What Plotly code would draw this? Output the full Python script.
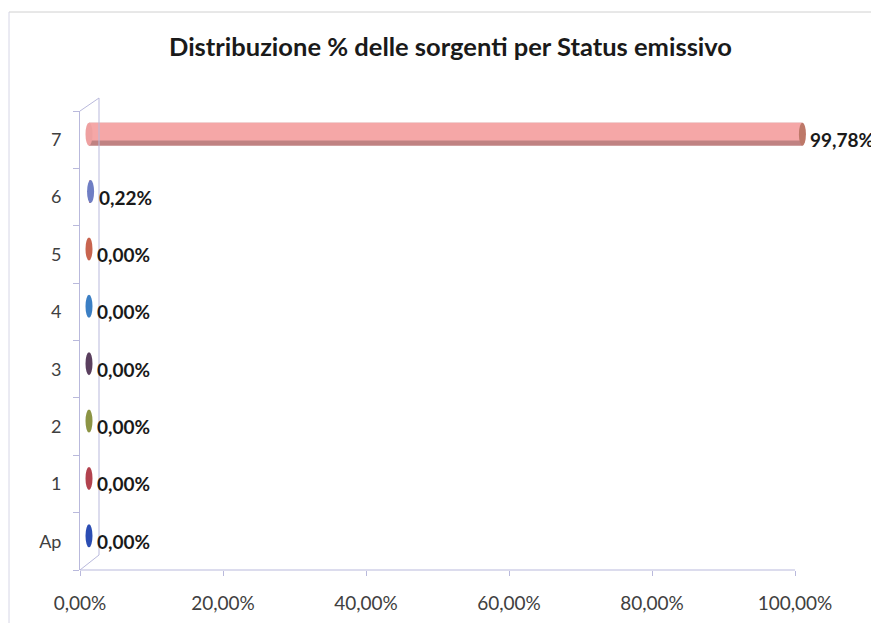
import plotly.graph_objects as go

categories = ["Ap", "1", "2", "3", "4", "5", "6", "7"]
values = [0.0, 0.0, 0.0, 0.0, 0.0, 0.0, 0.22, 99.78]
labels = ["0,00%", "0,00%", "0,00%", "0,00%", "0,00%", "0,00%", "0,22%", "99,78%"]
cap_colors = ["#2b4db3", "#b2424e", "#8c9444", "#5a3f5e", "#3b7fc4", "#c8644f", "#6f7ec4", "#bd7868"]
x_ticks = [0, 20, 40, 60, 80, 100]
x_ticktext = [f"{v:.2f}%".replace(".", ",") for v in x_ticks]

# the page body adds an 8px margin; figure is sized to fit the window
W, H = 871, 615
L, T, B = 72, 103, 53
axis_px = 715              # pixel length of 0..100 on the value axis
R = 31                     # plot area extends past 100% so the 3D bar is not clipped
pw, ph = W - L - R, H - T - B
px_per_unit = axis_px / 100.0
xmax = pw / px_per_unit
px_per_cat = ph / len(categories)
dx, dy = 9, 5.5  # 3D depth shift of the series
xs = dx / px_per_unit
ys = dy / px_per_cat

def px(xfig):
    return (xfig - L) / pw

def py(yfig):
    return (H - B - yfig) / ph

fig = go.Figure()

fig.add_trace(go.Scatter(x=values, y=categories, mode="markers",
                         marker=dict(opacity=0), showlegend=False, hoverinfo="skip"))

fig.add_trace(go.Bar(
    y=categories, x=values, orientation="h", base=0,
    width=0.40, offset=-0.20,
    marker=dict(color="#c08282", line=dict(width=0)),
    xaxis="x2", yaxis="y2", showlegend=False, hoverinfo="skip"))
fig.add_trace(go.Bar(
    y=categories, x=values, orientation="h", base=0,
    width=0.31, offset=-0.11,
    marker=dict(color="#f5a7a7", line=dict(width=0)),
    xaxis="x2", yaxis="y2", showlegend=False, hoverinfo="skip"))

fig.update_layout(barmode="overlay")

shapes = []
ew = 0.49
eh = 0.20
for i, (c, v) in enumerate(zip(categories, values)):
    col = cap_colors[i]
    if v > 1:
        shapes.append(dict(type="circle", xref="x2", yref="y2",
                           x0=-ew, x1=ew, y0=i - eh, y1=i + eh,
                           fillcolor="#eea0a0", line=dict(width=0), layer="above"))
    shapes.append(dict(type="circle", xref="x2", yref="y2",
                       x0=v - ew, x1=v + ew, y0=i - eh, y1=i + eh,
                       fillcolor=col, line=dict(width=0), layer="above"))

wall = "#b9b9dc"
bxf = L + 19
shapes += [
    # value axis line (0..100 only)
    dict(type="line", xref="x", yref="paper", x0=0, x1=100, y0=0, y1=0,
         line=dict(color=wall, width=1)),
    dict(type="line", xref="paper", yref="paper", x0=px(bxf), x1=px(bxf), y0=py(H - B - 15), y1=py(90),
         line=dict(color=wall, width=1)),
    dict(type="line", xref="paper", yref="paper", x0=0, x1=px(bxf), y0=0, y1=py(H - B - 15),
         line=dict(color=wall, width=1)),
    dict(type="line", xref="paper", yref="paper", x0=0, x1=px(bxf), y0=1, y1=py(90),
         line=dict(color=wall, width=1)),
    # outer chart frame (top and left edges)
    dict(type="line", xref="paper", yref="paper", x0=px(1), x1=px(W), y0=py(4), y1=py(4),
         line=dict(color="#d0d0d0", width=1)),
    dict(type="line", xref="paper", yref="paper", x0=px(1), x1=px(1), y0=py(4), y1=py(H),
         line=dict(color="#d6d6e6", width=1)),
]

annotations = []
for i, (v, t) in enumerate(zip(values, labels)):
    annotations.append(dict(x=v, y=i, xref="x", yref="y", text="<b>" + t + "</b>",
                            showarrow=False, xanchor="left", yanchor="middle", xshift=dx + 6,
                            font=dict(size=19, color="#1a1a1a", family="Lato")))

fig.update_layout(
    width=W, height=H,
    margin=dict(l=L, r=R, t=T, b=B, autoexpand=False),
    paper_bgcolor="white", plot_bgcolor="rgba(0,0,0,0)",
    title=dict(text="<b>Distribuzione % delle sorgenti per Status emissivo</b>",
               x=(450.5 - 8) / W, xanchor="center", y=1 - (47 - 8) / H, yanchor="middle",
               font=dict(size=25.5, color="#1a1a1a", family="Lato")),
    font=dict(family="Lato", size=18, color="#404040"),
    xaxis=dict(range=[0, xmax], tickvals=x_ticks, ticktext=x_ticktext,
               showgrid=False, zeroline=False, showline=False,
               ticks="outside", ticklen=5, tickcolor=wall, automargin=False,
               ticklabelstandoff=11,
               tickfont=dict(size=19, color="#404040")),
    yaxis=dict(type="category", categoryorder="array", categoryarray=categories,
               range=[-0.5, len(categories) - 0.5], automargin=False,
               showgrid=False, zeroline=False, showline=True, linecolor=wall,
               ticks="outside", ticklen=6, tickcolor=wall, tickson="boundaries",
               ticklabelstandoff=14,
               tickfont=dict(size=18, color="#404040")),
    xaxis2=dict(overlaying="x", anchor="y2", range=[-xs, xmax - xs], visible=False),
    yaxis2=dict(overlaying="y", anchor="x2", type="category", categoryorder="array",
                categoryarray=categories, range=[-0.5 - ys, len(categories) - 0.5 - ys], visible=False),
    shapes=shapes, annotations=annotations,
)

fig.write_html("out.html")
